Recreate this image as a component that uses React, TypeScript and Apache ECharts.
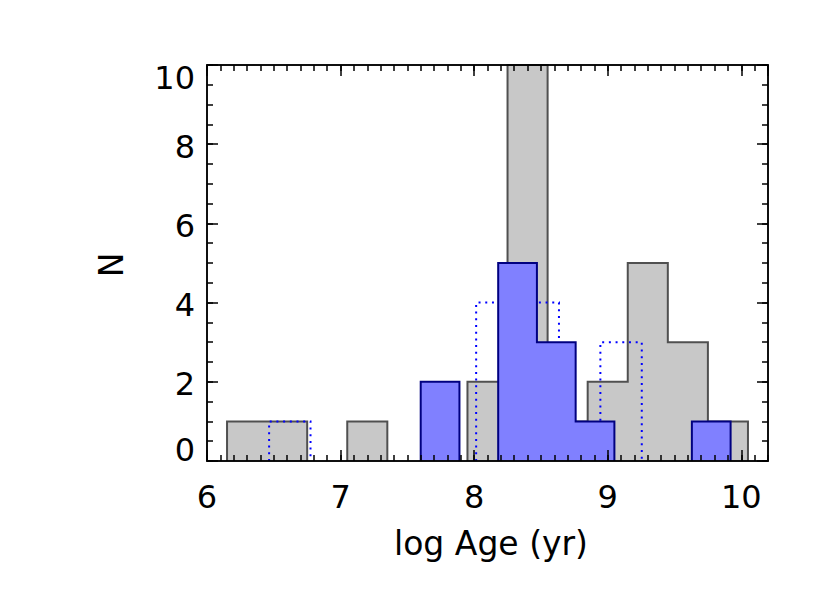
import React, { useEffect, useRef } from 'react';
import * as echarts from 'echarts';

// Gray histogram (bin edges and counts)
const grayEdges = [6.15, 6.45, 6.75, 7.05, 7.35, 7.65, 7.95, 8.25, 8.55, 8.85, 9.15, 9.45, 9.75, 10.05];
const grayCounts = [1, 1, 0, 1, 0, 0, 2, 10, 1, 2, 5, 3, 1];
// Blue filled histogram
const blueEdges = [7.6, 7.89, 8.18, 8.47, 8.76, 9.05, 9.34, 9.63, 9.92];
const blueCounts = [2, 0, 5, 3, 1, 0, 0, 1];
// Blue dotted histogram
const dotEdges = [6.465, 6.775, 7.085, 7.395, 7.705, 8.015, 8.325, 8.635, 8.945, 9.255];
const dotCounts = [1, 0, 0, 0, 0, 4, 4, 0, 3];

const xTickLabels = [6, 7, 8, 9, 10];
const yTickLabels = [0, 2, 4, 6, 8, 10];
const xTitle = 'log Age (yr)';
const yTitle = 'N';

const FONT = 'DejaVu Sans';

function runs(counts: number[]): number[][] {
  const out: number[][] = [];
  let s = -1;
  counts.forEach((c, i) => {
    if (c > 0 && s < 0) s = i;
    if (c <= 0 && s >= 0) {
      out.push([s, i - 1]);
      s = -1;
    }
  });
  if (s >= 0) out.push([s, counts.length - 1]);
  return out;
}

function histSeries(
  edges: number[],
  counts: number[],
  fill: string | null,
  stroke: string,
  lineWidth: number,
  lineDash: number[] | null,
  z: number
) {
  const data = runs(counts).map((r) => [edges[r[0]], edges[r[1] + 1], r[0], r[1]]);
  return {
    type: 'custom',
    z,
    xAxisIndex: 0,
    yAxisIndex: 0,
    data,
    encode: { x: [0, 1] },
    renderItem: (params: any, api: any) => {
      const s = api.value(2);
      const e = api.value(3);
      const pts: number[][] = [api.coord([edges[s], 0])];
      for (let j = s; j <= e; j++) {
        pts.push(api.coord([edges[j], counts[j]]));
        pts.push(api.coord([edges[j + 1], counts[j]]));
      }
      pts.push(api.coord([edges[e + 1], 0]));
      const children: any[] = [];
      if (fill) {
        children.push({ type: 'polygon', shape: { points: pts }, style: { fill, stroke: null } });
      }
      children.push({
        type: 'polyline',
        shape: { points: pts },
        style: { fill: null, stroke, lineWidth, lineDash: lineDash || undefined, lineCap: 'butt' },
      });
      return { type: 'group', children };
    },
  };
}

export default function App() {
  const ref = useRef<HTMLDivElement>(null);
  useEffect(() => {
    if (!ref.current) return;
    const chart = echarts.init(ref.current, null, { renderer: 'svg' });
    const axisLine = { show: true, onZero: false, lineStyle: { color: '#000', width: 1.5 } };
    const xMin = 6, xMax = 10.2, yMin = 0, yMax = 10;
    const mkX = (position: string, major: boolean, labels: boolean) => ({
      type: 'value',
      position,
      min: xMin,
      max: xMax,
      interval: major ? 1 : 0.1,
      z: 10,
      axisLine,
      axisTick: { show: true, inside: true, length: major ? 11 : 6, lineStyle: { color: '#000', width: 1.5 } },
      axisLabel: labels
        ? {
            show: true,
            margin: 20,
            color: '#000',
            fontSize: 32,
            fontFamily: FONT,
            showMaxLabel: false,
            formatter: (v: number) => (xTickLabels.some((t) => Math.abs(t - v) < 1e-6) ? String(v) : ''),
          }
        : { show: false },
      splitLine: { show: false },
    });
    const mkY = (position: string, major: boolean, labels: boolean) => ({
      type: 'value',
      position,
      min: yMin,
      max: yMax,
      interval: major ? 2 : 0.5,
      z: 10,
      axisLine,
      axisTick: { show: true, inside: true, length: major ? 11 : 6, lineStyle: { color: '#000', width: 1.5 } },
      axisLabel: labels
        ? {
            show: true,
            margin: 12,
            color: '#000',
            fontSize: 32,
            fontFamily: FONT,
            formatter: (v: number) => {
              if (!yTickLabels.includes(v)) return '';
              if (v === yMax) return `{t|${v}}`;
              if (v === yMin) return `{b|${v}}`;
              return `{n|${v}}`;
            },
            rich: {
              t: { fontSize: 32, fontFamily: FONT, color: '#000', padding: [25, 0, 0, 0] },
              b: { fontSize: 32, fontFamily: FONT, color: '#000', padding: [0, 0, 22, 0] },
              n: { fontSize: 32, fontFamily: FONT, color: '#000', padding: [5, 0, 0, 0] },
            },
          }
        : { show: false },
      splitLine: { show: false },
    });
    chart.setOption({
      animation: false,
      backgroundColor: '#fff',
      grid: { left: 207, right: 62, top: 65, bottom: 132, containLabel: false },
      xAxis: [mkX('bottom', true, true), mkX('bottom', false, false), mkX('top', true, false), mkX('top', false, false)],
      yAxis: [mkY('left', true, true), mkY('left', false, false), mkY('right', true, false), mkY('right', false, false)],
      series: [
        histSeries(grayEdges, grayCounts, '#c8c8c8', '#505050', 2, null, 2),
        histSeries(dotEdges, dotCounts, null, '#0000ff', 2, [2, 4.7], 3),
        histSeries(blueEdges, blueCounts, '#8080ff', '#000080', 2, null, 4),
      ],
      graphic: [
        {
          type: 'text',
          x: 491,
          y: 543,
          style: { text: xTitle, fontSize: 33, fontFamily: FONT, fill: '#000', align: 'center', verticalAlign: 'middle' },
        },
        {
          type: 'text',
          x: 111,
          y: 265,
          rotation: Math.PI / 2,
          style: { text: yTitle, fontSize: 33, fontFamily: FONT, fill: '#000', align: 'center', verticalAlign: 'middle' },
        },
      ],
    });
    return () => chart.dispose();
  }, []);
  return <div ref={ref} style={{ position: 'absolute', left: 0, top: 0, width: 830, height: 593 }} />;
}
